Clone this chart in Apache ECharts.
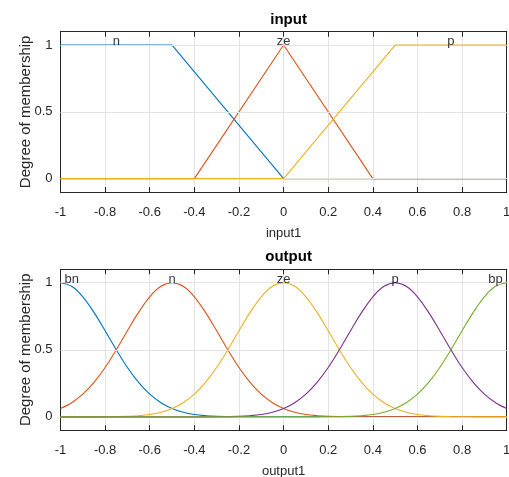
<!DOCTYPE html>
<html><head><meta charset="utf-8">
<script src="https://cdn.jsdelivr.net/npm/echarts@6/dist/echarts.min.js"></script>
<style>html,body{margin:0;padding:0;background:#fff}#c{width:509px;height:477px}</style>
</head><body><div id="c"></div>
<script>
// ---- data ----
const inNames = ['n', 'ze', 'p'];
const inN_x = [-1, -0.5, 0, 1];
const inN_y = [1, 1, 0, 0];
const inZe_x = [-1, -0.4, 0, 0.4, 1];
const inZe_y = [0, 0, 1, 0, 0];
const inP_x = [-1, 0, 0.5, 1];
const inP_y = [0, 0, 1, 1];
const inLabelX = [-0.75, 0, 0.75];

const outNames = ['bn', 'n', 'ze', 'p', 'bp'];
const outX = [-1,-0.95,-0.9,-0.85,-0.8,-0.75,-0.7,-0.65,-0.6,-0.55,-0.5,-0.45,-0.4,-0.35,-0.3,-0.25,-0.2,-0.15,-0.1,-0.05,0,0.05,0.1,0.15,0.2,0.25,0.3,0.35,0.4,0.45,0.5,0.55,0.6,0.65,0.7,0.75,0.8,0.85,0.9,0.95,1];
const outBn = [1,0.973,0.895,0.779,0.642,0.5,0.368,0.257,0.169,0.106,0.063,0.035,0.018,0.009,0.004,0.002,0.001,0,0,0,0,0,0,0,0,0,0,0,0,0,0,0,0,0,0,0,0,0,0,0,0];
const outN = [0.063,0.106,0.169,0.257,0.368,0.5,0.642,0.779,0.895,0.973,1,0.973,0.895,0.779,0.642,0.5,0.368,0.257,0.169,0.106,0.063,0.035,0.018,0.009,0.004,0.002,0.001,0,0,0,0,0,0,0,0,0,0,0,0,0,0];
const outZe = [0,0,0,0,0.001,0.002,0.004,0.009,0.018,0.035,0.063,0.106,0.169,0.257,0.368,0.5,0.642,0.779,0.895,0.973,1,0.973,0.895,0.779,0.642,0.5,0.368,0.257,0.169,0.106,0.063,0.035,0.018,0.009,0.004,0.002,0.001,0,0,0,0];
const outP = [0,0,0,0,0,0,0,0,0,0,0,0,0,0,0.001,0.002,0.004,0.009,0.018,0.035,0.063,0.106,0.169,0.257,0.368,0.5,0.642,0.779,0.895,0.973,1,0.973,0.895,0.779,0.642,0.5,0.368,0.257,0.169,0.106,0.063];
const outBp = [0,0,0,0,0,0,0,0,0,0,0,0,0,0,0,0,0,0,0,0,0,0,0,0,0.001,0.002,0.004,0.009,0.018,0.035,0.063,0.106,0.169,0.257,0.368,0.5,0.642,0.779,0.895,0.973,1];
const outLabelX = [-0.95, -0.5, 0, 0.5, 0.95];
const yTicks = [0, 0.5, 1];

// ---- styling ----
const colors = ['#0072BD', '#D95319', '#EDB120', '#7E2F8E', '#77AC30'];
const axisColor = '#262626';
const gridColor = '#e3e3e3';
const FONT = 'Liberation Sans, Arial, sans-serif';

const chart = echarts.init(document.getElementById('c'), null, {renderer: 'canvas'});

function zip(xs, ys) { return xs.map((x, i) => [x, ys[i]]); }

const grids = [
  {left: 60.5, top: 31.7, width: 446.2, height: 160.3, outerBoundsMode: 'none', containLabel: false},
  {left: 60.5, top: 269.3, width: 446.2, height: 161, outerBoundsMode: 'none', containLabel: false}
];
const xNames = ['input1', 'output1'];

const xAxes = [], yAxes = [];
grids.forEach((g, gi) => {
  xAxes.push({
    type: 'value', gridIndex: gi, min: -1, max: 1, interval: 0.2, position: 'bottom',
    name: xNames[gi], nameLocation: 'middle', nameGap: 35, nameMoveOverlap: false,
    nameTextStyle: {color: axisColor, fontSize: 13, fontFamily: FONT},
    axisLine: {show: true, onZero: false, lineStyle: {color: axisColor, width: 1}},
    axisTick: {show: true, inside: true, length: 5, lineStyle: {color: axisColor}},
    axisLabel: {color: axisColor, fontSize: 13, fontFamily: FONT, margin: 14, hideOverlap: false},
    splitLine: {show: true, lineStyle: {color: gridColor, width: 1}}
  });
  xAxes.push({
    type: 'value', gridIndex: gi, min: -1, max: 1, interval: 0.2, position: 'top',
    axisLine: {show: true, onZero: false, lineStyle: {color: axisColor, width: 1}},
    axisTick: {show: true, inside: true, length: 5, lineStyle: {color: axisColor}},
    axisLabel: {show: false}, splitLine: {show: false}
  });
  yAxes.push({
    type: 'value', gridIndex: gi, min: -0.1, max: 1.1, position: 'left',
    name: 'Degree of membership', nameLocation: 'middle', nameGap: 27, nameMoveOverlap: false,
    nameTextStyle: {color: axisColor, fontSize: 15, fontFamily: FONT},
    axisLine: {show: true, onZero: false, lineStyle: {color: axisColor, width: 1}},
    axisTick: {show: true, inside: true, length: 5, customValues: yTicks, lineStyle: {color: axisColor}},
    axisLabel: {color: axisColor, fontSize: 13, fontFamily: FONT, margin: 8, customValues: yTicks},
    splitLine: {show: false}
  });
  yAxes.push({
    type: 'value', gridIndex: gi, min: -0.1, max: 1.1, position: 'right',
    axisLine: {show: true, onZero: false, lineStyle: {color: axisColor, width: 1}},
    axisTick: {show: true, inside: true, length: 5, customValues: yTicks, lineStyle: {color: axisColor}},
    axisLabel: {show: false}, splitLine: {show: false}
  });
});

const series = [];
// horizontal grid lines
[0, 1].forEach(gi => {
  series.push({
    type: 'line', xAxisIndex: gi * 2, yAxisIndex: gi * 2, data: [], z: 1, silent: true,
    markLine: {silent: true, symbol: 'none', label: {show: false}, animation: false,
      lineStyle: {color: gridColor, width: 1, type: 'solid'},
      data: yTicks.map(v => ({yAxis: v}))}
  });
});

const topData = [zip(inN_x, inN_y), zip(inZe_x, inZe_y), zip(inP_x, inP_y)];
topData.forEach((d, i) => {
  series.push({type: 'line', name: inNames[i], xAxisIndex: 0, yAxisIndex: 0, data: d,
    showSymbol: false, symbol: 'none', lineStyle: {color: colors[i], width: 1.1}, z: 3 + i, animation: false});
});
const outSeries = [outBn, outN, outZe, outP, outBp];
outSeries.forEach((ys, i) => {
  series.push({type: 'line', name: outNames[i], xAxisIndex: 2, yAxisIndex: 2, data: zip(outX, ys),
    showSymbol: false, symbol: 'none', smooth: 0.35,
    lineStyle: {color: colors[i], width: 1.1}, z: 3 + i, animation: false});
});

function labelSeries(xi, yi, xs, names) {
  return {type: 'scatter', xAxisIndex: xi, yAxisIndex: yi, symbolSize: 0, z: 10, animation: false, silent: true,
    data: xs.map((x, i) => ({value: [x, 1], name: names[i]})),
    label: {show: true, position: 'top', distance: -3, formatter: p => p.name,
      color: '#000', fontSize: 13, fontFamily: FONT}};
}
series.push(labelSeries(0, 0, inLabelX, inNames));
series.push(labelSeries(2, 2, outLabelX, outNames));

chart.setOption({
  animation: false,
  backgroundColor: '#fff',
  title: [
    {text: 'input', left: 283.6, top: 7, textAlign: 'center',
      textStyle: {fontSize: 15, fontWeight: 'bold', color: '#000', fontFamily: FONT}},
    {text: 'output', left: 283.6, top: 244, textAlign: 'center',
      textStyle: {fontSize: 15, fontWeight: 'bold', color: '#000', fontFamily: FONT}}
  ],
  grid: grids,
  xAxis: xAxes,
  yAxis: yAxes,
  series: series
});
</script></body></html>
